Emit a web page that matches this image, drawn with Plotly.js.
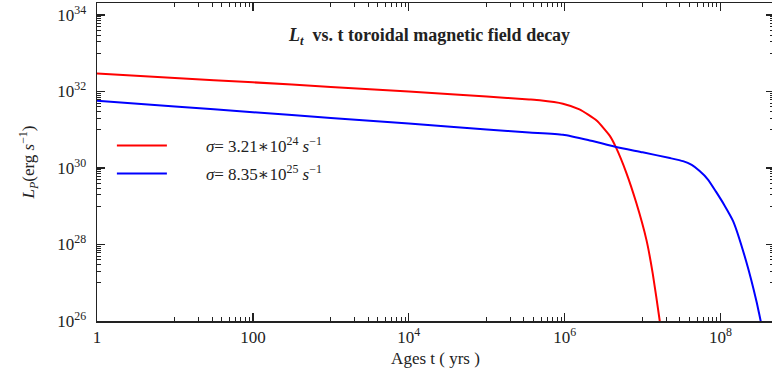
<!DOCTYPE html>
<html>
<head>
<meta charset="utf-8">
<script src="https://cdn.plot.ly/plotly-3.0.1.min.js"></script>
<style>
html, body { margin: 0; padding: 0; overflow: hidden; background: #fff; }
#chart { width: 774px; height: 373px; }
</style>
</head>
<body>
<div id="chart"></div>
<script>
// Red curve: sigma = 3.21e24 s^-1
const redAges = [1, 10, 100, 1e3, 1e4, 1e5, 3.5e5, 4.8e5, 9.5e5, 1.55e6, 2.57e6, 3.8e6, 4.57e6, 6.17e6, 8.3e6, 1.12e7, 1.35e7, 1.66e7, 1.8e7];
const redLum  = [2.95e32, 2.24e32, 1.74e32, 1.32e32, 1.0e32, 7.4e31, 6.2e31, 5.9e31, 4.8e31, 3.4e31, 1.74e31, 6.9e30, 3.4e30, 7.6e29, 1.23e29, 1.32e28, 1.74e27, 1.0e26, 2.5e25];

// Blue curve: sigma = 8.35e25 s^-1
const blueAges = [1, 10, 100, 1e3, 1e4, 1e5, 3.5e5, 9.5e5, 2e6, 4.57e6, 1e7, 2.24e7, 3.3e7, 4.27e7, 5.4e7, 6.9e7, 8.7e7, 1.12e8, 1.45e8, 2.14e8, 2.9e8, 3.3e8, 3.6e8];
const blueLum  = [5.75e31, 4.07e31, 2.88e31, 2.04e31, 1.45e31, 1.02e31, 8.5e30, 7.4e30, 5.4e30, 3.55e30, 2.57e30, 1.82e30, 1.51e30, 1.2e30, 8.3e29, 5.0e29, 2.45e29, 1.07e29, 4.1e28, 3.55e27, 3.2e26, 9.3e25, 4.5e25];

const seriesNames = [
  '<i>σ</i>= 3.21∗10<sup>24</sup> <i>s</i><sup>−1</sup>',
  '<i>σ</i>= 8.35∗10<sup>25</sup> <i>s</i><sup>−1</sup>'
];

const xTickVals = [1, 100, 1e4, 1e6, 1e8];
const xTickText = ['1', '100', '10<sup>4</sup>', '10<sup>6</sup>', '10<sup>8</sup>'];
const yTickVals = [1e26, 1e28, 1e30, 1e32, 1e34];
const yTickText = ['10<sup>26</sup>', '10<sup>28</sup>', '10<sup>30</sup>', '10<sup>32</sup>', '10<sup>34</sup>'];

const xMinorExps = [1, 3, 5, 7];
const yMinorExps = [27, 29, 31, 33];
function minorVals(exps) {
  const out = [];
  exps.forEach(e => { for (let k = 1; k <= 9; k++) out.push(k * Math.pow(10, e)); });
  return out;
}

const serif = 'Liberation Serif, DejaVu Serif, serif';
const axisColor = '#222';
const pad = '&nbsp;&nbsp;&nbsp;&nbsp;&nbsp;&nbsp;&nbsp;&nbsp;';

const traces = [
  { x: redAges, y: redLum, type: 'scatter', mode: 'lines', name: pad + seriesNames[0], legendgroup: 'a',
    line: { color: '#ff0000', width: 2, shape: 'spline', smoothing: 0.5 } },
  { x: blueAges, y: blueLum, type: 'scatter', mode: 'lines', name: pad + seriesNames[1], legendgroup: 'b',
    line: { color: '#0000ff', width: 2, shape: 'spline', smoothing: 0.5 } }
];

const commonAxis = {
  type: 'log',
  showgrid: false,
  zeroline: false,
  showline: true,
  linecolor: axisColor,
  linewidth: 1.5,
  mirror: 'ticks',
  ticks: 'inside',
  ticklen: 8,
  tickwidth: 1.3,
  tickcolor: axisColor,
  tickmode: 'array',
  tickfont: { family: serif, size: 17, color: '#222' }
};

const layout = {
  width: 774,
  height: 373,
  paper_bgcolor: '#fff',
  plot_bgcolor: '#fff',
  margin: { l: 97, r: 0, t: 3, b: 52 },
  showlegend: true,
  legend: {
    x: 0.022, xanchor: 'left',
    y: 0.607, yanchor: 'top',
    bgcolor: 'rgba(0,0,0,0)',
    borderwidth: 0,
    itemwidth: 50,
    tracegroupgap: 3,
    font: { family: serif, size: 17, color: '#222' }
  },
  title: {
    text: '<i>L</i><sub><i>t</i></sub>  vs. t toroidal magnetic field decay',
    font: { family: serif, size: 18, color: '#222', weight: 'bold' },
    x: 0.555, xanchor: 'center', xref: 'container',
    y: 1 - 35 / 373, yanchor: 'middle', yref: 'container'
  },
  xaxis: Object.assign({}, commonAxis, {
    range: [0, 8.686],
    tickvals: xTickVals,
    ticktext: xTickText,
    minor: { tickmode: 'array', tickvals: minorVals(xMinorExps), ticks: 'inside', ticklen: 4, tickwidth: 1, tickcolor: axisColor, showgrid: false },
    title: { text: 'Ages t ( yrs )', font: { family: serif, size: 17, color: '#222' }, standoff: 6 }
  }),
  yaxis: Object.assign({}, commonAxis, {
    range: [26, 34.314],
    tickvals: yTickVals,
    ticktext: yTickText,
    ticklabelstandoff: 6,
    minor: { tickmode: 'array', tickvals: minorVals(yMinorExps), ticks: 'inside', ticklen: 4, tickwidth: 1, tickcolor: axisColor, showgrid: false },
    title: { text: '<i>L</i><sub><i>P</i></sub>(erg <i>s</i><sup>−1</sup>)', font: { family: serif, size: 17, color: '#222' }, standoff: 18 }
  })
};

Plotly.newPlot('chart', traces, layout, { displayModeBar: false, staticPlot: true });
</script>
</body>
</html>
